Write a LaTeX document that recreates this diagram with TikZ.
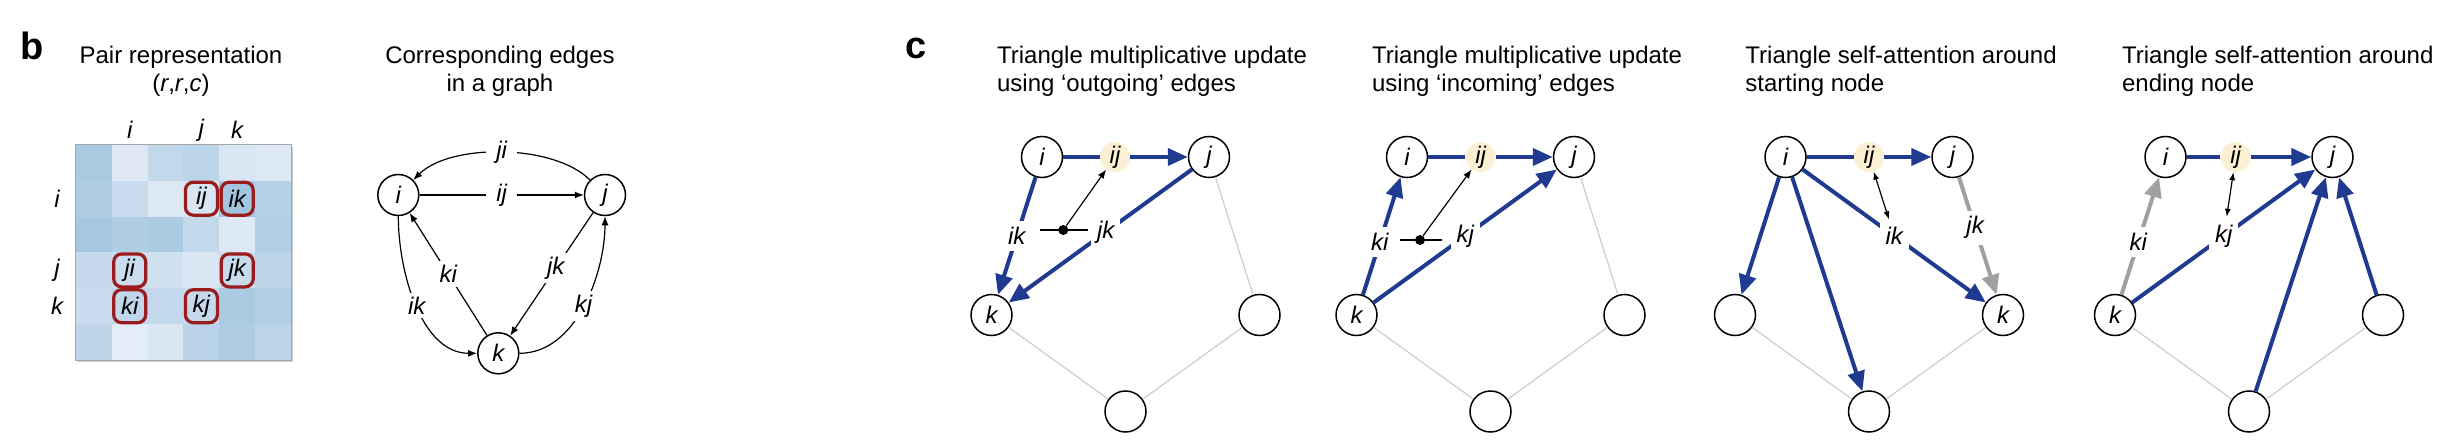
\documentclass[12pt,tikz,border=0pt]{standalone}
\usepackage{fontspec}
\setmainfont{Liberation Sans}
\usetikzlibrary{arrows.meta,shadows}

\definecolor{edgeblue}{HTML}{1F3A8F}
\definecolor{edgegrey}{HTML}{A0A0A0}
\definecolor{ringgrey}{HTML}{CCCCCC}
\definecolor{hubyellow}{HTML}{FBF0D3}
\definecolor{boxred}{HTML}{9A1C1C}

\tikzstyle{Vert}=[circle, draw=black, fill=white, line width=0.75pt, minimum size=20.5pt, inner sep=0pt, font=\itshape]
\tikzstyle{Hub}=[circle, fill=hubyellow, minimum size=15pt, inner sep=0pt, font=\itshape]
\tikzstyle{EdgeLab}=[fill=white, inner sep=3pt, font=\itshape]
\tikzstyle{GraphLab}=[fill=white, inner xsep=5pt, inner ysep=2pt, font=\itshape]
\tikzstyle{PairBox}=[rectangle, rounded corners=4pt, draw=boxred, line width=1.6pt, minimum width=16pt, minimum height=16.5pt, inner sep=0pt, font=\itshape]
\tikzstyle{AxisLab}=[inner sep=0pt, font=\itshape]
\tikzstyle{BlackArrow}=[line width=0.6pt, -{Latex[length=4.5pt,width=3.5pt]}]
\tikzstyle{BlackBoth}=[line width=0.6pt, {Latex[length=4pt,width=3pt]}-{Latex[length=4pt,width=3pt]}]
\tikzstyle{BlueLine}=[draw=edgeblue, line width=2pt]
\tikzstyle{BlueArrow}=[draw=edgeblue, line width=2pt, -{Triangle[length=10pt,width=8.5pt]}]
\tikzstyle{GreyArrow}=[draw=edgegrey, line width=2pt, -{Triangle[length=10pt,width=8.5pt]}]
\tikzstyle{RingLine}=[draw=ringgrey, line width=0.6pt]
\tikzstyle{Junction}=[circle, fill=black, minimum size=5pt, inner sep=0pt]
\tikzstyle{Title}=[anchor=north west, inner sep=0pt, align=left, font=\fontsize{12}{14.2}\selectfont]
\tikzstyle{PanelTag}=[anchor=base west, inner sep=0pt, font=\fontsize{19}{20}\selectfont\bfseries]

\begin{document}
\begin{tikzpicture}[x=0.5pt, y=-0.5pt]
	\useasboundingbox (0,0) rectangle (2452,444);

	%Panel b: matriz
	\node[PanelTag]		(tag_b)		at (20,60)		{b};
	\node[Title, align=center, anchor=north]	(pair_title)	at (181,45.5)	{Pair representation\\(\textit{r},\textit{r},\textit{c})};

	\draw[gray!70, line width=1.2pt, fill=white, drop shadow={shadow xshift=1pt, shadow yshift=-1pt, opacity=0.4}] (76,145) rectangle (291,360);
	\foreach \shade [count=\n from 0] in {A9CAE1,DDE8F4,C2D8EB,BCD4E8,D8E5F2,DCE8F4,
		AFCDE3,C9DBED,DCE8F4,D8E6F2,A3C5DF,B5D1E6,
		A5C8E0,AFCDE3,ABCBE2,C2D8EB,DDE9F4,B0CEE4,
		C6DAEC,CADCEE,CFE0EF,D8E6F3,C8DBED,BCD4E8,
		C9DBED,C0D6EA,C3D8EB,C6D9EC,AACBE2,B1CFE5,
		BFD5E9,E3EDF7,DAE7F3,BBD3E8,AECCE3,BBD4E8}{
		\pgfmathtruncatemacro{\col}{mod(\n,6)}
		\pgfmathtruncatemacro{\row}{div(\n,6)}
		\definecolor{cellfill}{HTML}{\shade}
		\fill[cellfill] (76+35.83*\col, 145+35.83*\row) rectangle ++(35.83,35.83);
	}

	\node[AxisLab]	(col_i)	at (129.7,130)	{i};
	\node[AxisLab]	(col_j)	at (201.4,130)	{j};
	\node[AxisLab]	(col_k)	at (237.2,130)	{k};
	\node[AxisLab]	(row_i)	at (57,198.7)	{i};
	\node[AxisLab]	(row_j)	at (57,270.4)	{j};
	\node[AxisLab]	(row_k)	at (57,306.2)	{k};

	\node[PairBox]	(pair_ij)	at (201.4,198.7)	{ij};
	\node[PairBox]	(pair_ik)	at (237.2,198.7)	{ik};
	\node[PairBox]	(pair_ji)	at (129.7,270.4)	{ji};
	\node[PairBox]	(pair_jk)	at (237.2,270.4)	{jk};
	\node[PairBox]	(pair_ki)	at (129.7,306.2)	{ki};
	\node[PairBox]	(pair_kj)	at (201.4,306.2)	{kj};

	%Panel b: grafo
	\node[Title, align=center, anchor=north]	(graph_title)	at (500,45.5)	{Corresponding edges\\in a graph};
	\node[Vert]	(g_i)	at (398.3,195)	{i};
	\node[Vert]	(g_j)	at (605,195)	{j};
	\node[Vert]	(g_k)	at (498.3,353.3)	{k};

	\draw[BlackArrow] (g_i) -- node[GraphLab] {ij} (g_j);
	\draw[BlackArrow] (g_j) to[bend right=45, looseness=0.75] node[GraphLab] {ji} (g_i);
	\draw[BlackArrow] (g_i) to[out=-90, in=180, looseness=0.9] node[GraphLab] {ik} (g_k);
	\draw[BlackArrow] (g_k) -- node[GraphLab] {ki} (g_i);
	\draw[BlackArrow] (g_j) -- node[GraphLab, pos=0.45] {jk} (g_k);
	\draw[BlackArrow] (g_k) to[out=0, in=-90, looseness=0.9] node[GraphLab] {kj} (g_j);

	%Panel c
	\node[PanelTag]		(tag_c)		at (905,59)		{c};
	\node[Title]	(out_title)	at (996.7,45.5)		{Triangle multiplicative update\\using ‘outgoing’ edges};
	\node[Title]	(in_title)	at (1371.7,45.5)	{Triangle multiplicative update\\using ‘incoming’ edges};
	\node[Title]	(st_title)	at (1745,45.5)		{Triangle self-attention around\\starting node};
	\node[Title]	(en_title)	at (2121.7,45.5)	{Triangle self-attention around\\ending node};

	%Outgoing
	\begin{scope}[shift={(1125.5,0)}]
		\node[Vert]	(out_i)	at (-83.5,157)	{i};
		\node[Vert]	(out_j)	at (83.5,157)	{j};
		\node[Vert]	(out_r)	at (134,315)	{};
		\node[Vert]	(out_b)	at (0,411.5)	{};
		\node[Vert]	(out_k)	at (-134,315)	{k};
		\node[Hub]	(out_ij)	at (-10.5,157)	{ij};

		\draw[RingLine] (out_j) -- (out_r) -- (out_b) -- (out_k);
		\draw[BlueLine] (out_i) -- (out_ij);
		\draw[BlueArrow] (out_ij) -- (out_j);
		\draw[BlueArrow] (out_i) -- node[EdgeLab] (out_ik) {ik} (out_k);
		\draw[BlueArrow] (out_j) -- node[EdgeLab, pos=0.47] (out_jk) {jk} (out_k);

		\coordinate (out_from) at (-85.5,230);
		\coordinate (out_to) at (-37.2,230);
		\draw[line width=0.6pt] (out_from) -- (out_to);
		\node[Junction]	(out_dot)	at (-62.2,230)	{};
		\draw[BlackArrow] (out_dot) -- (out_ij);
	\end{scope}

	%Incoming
	\begin{scope}[shift={(1490.5,0)}]
		\node[Vert]	(in_i)	at (-83.5,157)	{i};
		\node[Vert]	(in_j)	at (83.5,157)	{j};
		\node[Vert]	(in_r)	at (134,315)	{};
		\node[Vert]	(in_b)	at (0,411.5)	{};
		\node[Vert]	(in_k)	at (-134,315)	{k};
		\node[Hub]	(in_ij)	at (-9.8,157)	{ij};

		\draw[RingLine] (in_j) -- (in_r) -- (in_b) -- (in_k);
		\draw[BlueLine] (in_i) -- (in_ij);
		\draw[BlueArrow] (in_ij) -- (in_j);
		\draw[BlueArrow] (in_k) -- node[EdgeLab, pos=0.45] (in_ki) {ki} (in_i);
		\draw[BlueArrow] (in_k) -- node[EdgeLab] (in_kj) {kj} (in_j);

		\coordinate (in_from) at (-90.5,240);
		\coordinate (in_to) at (-48.8,240);
		\draw[line width=0.6pt] (in_from) -- (in_to);
		\node[Junction]	(in_dot)	at (-70.5,240)	{};
		\draw[BlackArrow] (in_dot) -- (in_ij);
	\end{scope}

	%Starting node
	\begin{scope}[shift={(1869,0)}]
		\node[Vert]	(st_i)	at (-83.5,157)	{i};
		\node[Vert]	(st_j)	at (83.5,157)	{j};
		\node[Vert]	(st_k)	at (134,315)	{k};
		\node[Vert]	(st_b)	at (0,411.5)	{};
		\node[Vert]	(st_l)	at (-134,315)	{};
		\node[Hub]	(st_ij)	at (0,157)	{ij};

		\draw[RingLine] (st_l) -- (st_b) -- (st_k);
		\draw[BlueLine] (st_i) -- (st_ij);
		\draw[BlueArrow] (st_ij) -- (st_j);
		\draw[BlueArrow] (st_i) -- (st_l);
		\draw[BlueArrow] (st_i) -- (st_b);
		\draw[BlueArrow] (st_i) -- node[EdgeLab] (st_ik) {ik} (st_k);
		\draw[GreyArrow] (st_j) -- node[EdgeLab, pos=0.43] (st_jk) {jk} (st_k);
		\draw[BlackBoth] (st_ij) -- (st_ik);
	\end{scope}

	%Ending node
	\begin{scope}[shift={(2249,0)}]
		\node[Vert]	(en_i)	at (-83.5,157)	{i};
		\node[Vert]	(en_j)	at (83.5,157)	{j};
		\node[Vert]	(en_r)	at (134,315)	{};
		\node[Vert]	(en_b)	at (0,411.5)	{};
		\node[Vert]	(en_k)	at (-134,315)	{k};
		\node[Hub]	(en_ij)	at (-13.3,157)	{ij};

		\draw[RingLine] (en_k) -- (en_b) -- (en_r);
		\draw[BlueLine] (en_i) -- (en_ij);
		\draw[BlueArrow] (en_ij) -- (en_j);
		\draw[GreyArrow] (en_k) -- node[EdgeLab, pos=0.45] (en_ki) {ki} (en_i);
		\draw[BlueArrow] (en_k) -- node[EdgeLab] (en_kj) {kj} (en_j);
		\draw[BlueArrow] (en_b) -- (en_j);
		\draw[BlueArrow] (en_r) -- (en_j);
		\draw[BlackBoth] (en_ij) -- (en_kj);
	\end{scope}

\end{tikzpicture}
\end{document}
